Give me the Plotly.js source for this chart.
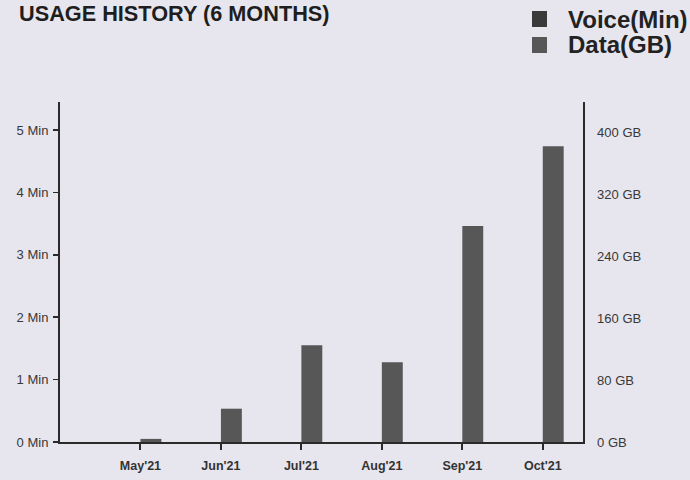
<!DOCTYPE html>
<html>
<head>
<meta charset="utf-8">
<script src="https://cdn.plot.ly/plotly-3.0.1.min.js"></script>
<style>
  html, body { margin: 0; padding: 0; background: #e7e6ee; overflow: hidden; }
  #chart { width: 690px; height: 480px; }
</style>
</head>
<body>
<div id="chart"></div>
<script>
const months = ["May'21", "Jun'21", "Jul'21", "Aug'21", "Sep'21", "Oct'21"];
const voiceMin = [0, 0, 0, 0, 0, 0];
const dataGB = [4, 43, 125, 103, 279, 382];
const voiceTicks = [0, 1, 2, 3, 4, 5];
const dataTicks = [0, 80, 160, 240, 320, 400];
const seriesNames = ['Voice(Min)', 'Data(GB)'];
const seriesColors = ['#3a3a3a', '#575757'];

const font = "Liberation Sans, Arial, sans-serif";

const W = 690, H = 480;
const M = { l: 60, r: 107, t: 102, b: 38 };
const pw = W - M.l - M.r, ph = H - M.t - M.b;
const px = x => (x - M.l) / pw;        // pixel -> paper x
const py = y => (H - M.b - y) / ph;    // pixel -> paper y

const traces = [
  {
    type: 'bar', name: seriesNames[0], x: months, y: voiceMin,
    yaxis: 'y', width: 0.26, offset: -0.26,
    marker: { color: seriesColors[0] }, hoverinfo: 'skip', showlegend: false
  },
  {
    type: 'bar', name: seriesNames[1], x: months, y: dataGB,
    yaxis: 'y2', width: 0.26, offset: 0,
    marker: { color: seriesColors[1] }, hoverinfo: 'skip', showlegend: false
  }
];

// Legend drawn as swatches + labels (top right)
const legendRows = [19, 45];
const shapes = seriesNames.map((n, i) => ({
  type: 'rect', xref: 'paper', yref: 'paper', layer: 'above',
  x0: px(532), x1: px(547), y0: py(legendRows[i] - 8), y1: py(legendRows[i] + 8),
  fillcolor: seriesColors[i], line: { width: 0 }
}));
const annotations = seriesNames.map((n, i) => ({
  text: '<b>' + n + '</b>', xref: 'paper', yref: 'paper', showarrow: false,
  x: px(566), y: py(legendRows[i]), xanchor: 'left', yanchor: 'middle',
  font: { family: font, size: 24, color: '#222222' }
}));

const layout = {
  width: W, height: H,
  paper_bgcolor: '#e7e6ee', plot_bgcolor: '#e7e6ee',
  margin: Object.assign({ autoexpand: false }, M),
  showlegend: false,
  shapes: shapes,
  annotations: annotations,
  title: {
    text: '<b>USAGE HISTORY (6 MONTHS)</b>',
    xref: 'container', yref: 'container',
    x: 19 / W, xanchor: 'left', y: 1 - 13 / H, yanchor: 'middle',
    font: { family: font, size: 21.7, color: '#1e1e1e' }
  },
  xaxis: {
    type: 'category', range: [-1, 5.5],
    showline: true, linecolor: '#2a2a2a', linewidth: 2,
    ticks: 'outside', ticklen: 6, tickwidth: 2, tickcolor: '#2a2a2a',
    ticklabelstandoff: 5,
    showgrid: false, zeroline: false,
    tickfont: { family: font, size: 12.5, color: '#333333', weight: 'bold' }
  },
  yaxis: {
    range: [0, 5.45], tickvals: voiceTicks, ticktext: voiceTicks.map(v => v + ' Min'),
    showline: true, linecolor: '#2a2a2a', linewidth: 2,
    ticks: 'outside', ticklen: 5, tickwidth: 1.5, tickcolor: '#2a2a2a',
    ticklabelstandoff: 2,
    showgrid: false, zeroline: false,
    tickfont: { family: font, size: 13, color: '#383838' }
  },
  yaxis2: {
    overlaying: 'y', side: 'right', range: [0, 439],
    tickvals: dataTicks, ticktext: dataTicks.map(v => v + ' GB'),
    showline: true, linecolor: '#2a2a2a', linewidth: 1.5,
    ticks: '', ticklabelstandoff: 10,
    showgrid: false, zeroline: false,
    tickfont: { family: font, size: 13, color: '#383838' }
  }
};

Plotly.newPlot('chart', traces, layout, { displayModeBar: false, staticPlot: true });
</script>
</body>
</html>
